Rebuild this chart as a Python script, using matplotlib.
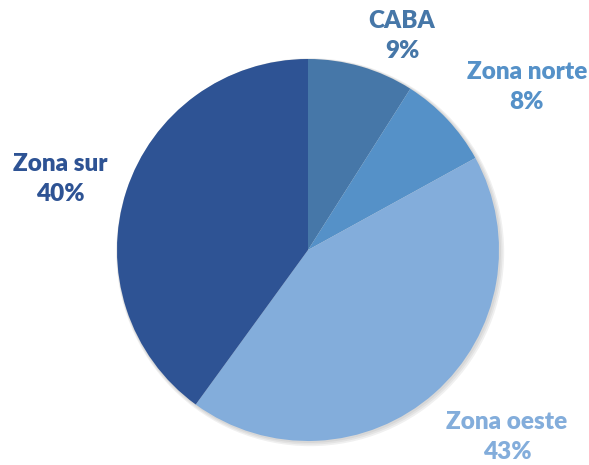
import matplotlib
matplotlib.use("Agg")
import matplotlib.pyplot as plt
from matplotlib.patches import Circle

categories = ["CABA", "Zona norte", "Zona oeste", "Zona sur"]
values = [9, 8, 43, 40]
colors = ["#4677A8", "#5591C8", "#83ADDB", "#2E5394"]
label_pos_px = [(402, 36), (527, 87), (507, 437), (60, 179)]

W, H = 589, 465
fig = plt.figure(figsize=(W / 100, H / 100), dpi=100)
ax = fig.add_axes([0, 0, 1, 1])

cx, cy, r = 308, H - 250, 191
for k, a in enumerate([0.05, 0.05, 0.06]):
    ax.add_patch(Circle((cx + 1 + k * 0.6, cy - 1 - k * 0.6), r + 1 + k, color="black",
                        alpha=a, lw=0, zorder=0))

wedges, _ = ax.pie(values, colors=colors, startangle=90, counterclock=False,
                   center=(cx, cy), radius=r,
                   wedgeprops=dict(linewidth=0, zorder=2))

for cat, v, c, (px, py) in zip(categories, values, colors, label_pos_px):
    ax.text(px, H - py, f"{cat}\n{v}%", ha="center", va="center", color=c,
            fontsize=17.5, fontweight="heavy", family=["Lato", "DejaVu Sans"],
            linespacing=1.45, zorder=3)

ax.set_xlim(0, W)
ax.set_ylim(0, H)
ax.set_aspect("equal")
ax.axis("off")
fig.savefig("out.png", dpi=100, facecolor="white")
